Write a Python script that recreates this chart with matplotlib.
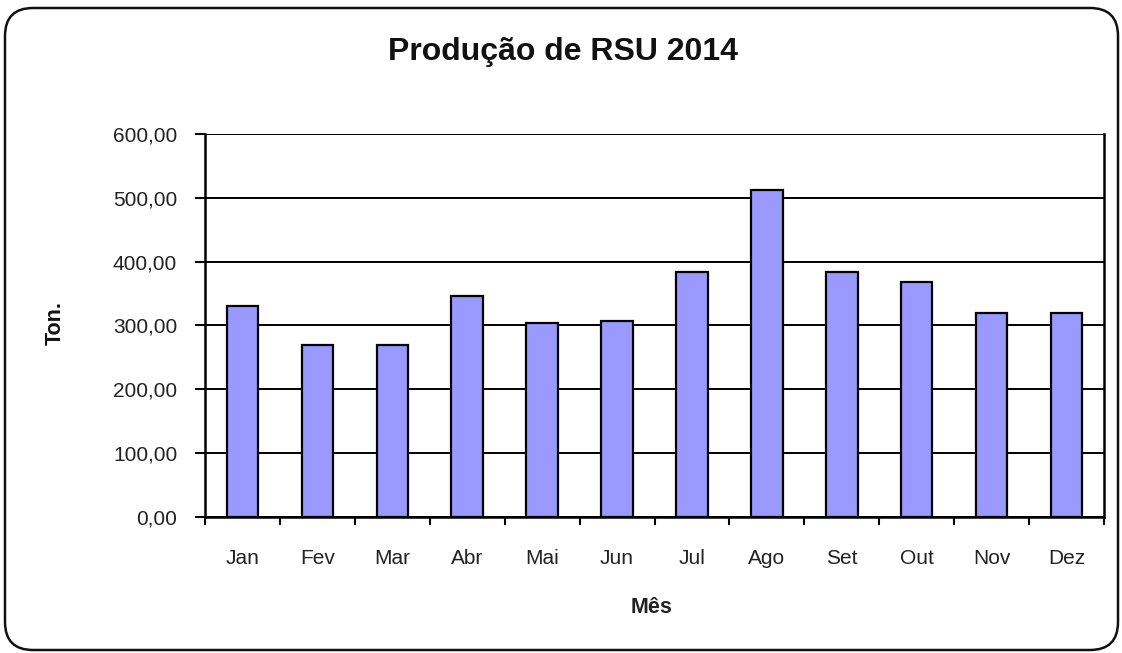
import numpy as np
import matplotlib
matplotlib.use('Agg')
import matplotlib.pyplot as plt
from matplotlib.patches import FancyBboxPatch
from matplotlib.ticker import FuncFormatter

# dados
meses = ['Jan', 'Fev', 'Mar', 'Abr', 'Mai', 'Jun',
         'Jul', 'Ago', 'Set', 'Out', 'Nov', 'Dez']
toneladas = [330, 269, 269, 346, 304, 307, 384, 512, 384, 368, 320, 320]
y_ticks = [0, 100, 200, 300, 400, 500, 600]

plt.rcParams['font.family'] = ['Liberation Sans', 'DejaVu Sans']

fig = plt.figure(figsize=(11.22, 6.53), dpi=100)
fig.patch.set_facecolor('white')

# moldura arredondada estilo Excel (em polegadas)
frame = FancyBboxPatch((0.05, 0.03), 11.13, 6.42,
                       boxstyle='round,pad=0,rounding_size=0.28',
                       transform=fig.dpi_scale_trans, facecolor='none',
                       edgecolor='#111111', linewidth=1.8)
fig.patches.append(frame)

ax = fig.add_axes([0.1827, 0.2083, 0.8013, 0.5865])
x = np.arange(len(meses))
ax.bar(x, toneladas, width=0.42, color='#9999FF', edgecolor='black',
       linewidth=1.6, zorder=3)

ax.set_xlim(-0.5, len(meses) - 0.5)
ax.set_ylim(0, 600)
ax.set_yticks(y_ticks)
ax.yaxis.set_major_formatter(FuncFormatter(lambda v, p: f'{v:.2f}'.replace('.', ',')))
ax.grid(axis='y', color='black', linewidth=1.4, zorder=1)

# ticks entre categorias, rotulos no centro
ax.set_xticks(np.arange(-0.5, len(meses), 1.0))
ax.set_xticklabels([])
ax.set_xticks(x, minor=True)
ax.set_xticklabels(meses, minor=True)
ax.tick_params(axis='x', which='major', length=6, width=1.5, direction='out')
ax.tick_params(axis='x', which='minor', length=0, pad=23, labelsize=15)
ax.tick_params(axis='y', length=7, width=1.5, direction='out', pad=13, labelsize=15)

for lab in ax.get_xticklabels(minor=True) + ax.get_yticklabels():
    lab.set_color('#222222')

for side in ['left', 'bottom', 'right']:
    ax.spines[side].set_linewidth(1.8)
ax.spines['top'].set_visible(False)

fig.text(0.502, 0.920, 'Produção de RSU 2014', ha='center', va='center',
         fontsize=23, fontweight='bold', color='#111111')
fig.text(0.581, 0.0704, 'Mês', ha='center', va='center',
         fontsize=15.5, fontweight='bold', color='#222222')
fig.text(0.049, 0.5054, 'Ton.', ha='center', va='center', rotation=90,
         fontsize=15.5, fontweight='bold', color='#111111')

fig.savefig('out.png', dpi=100)
